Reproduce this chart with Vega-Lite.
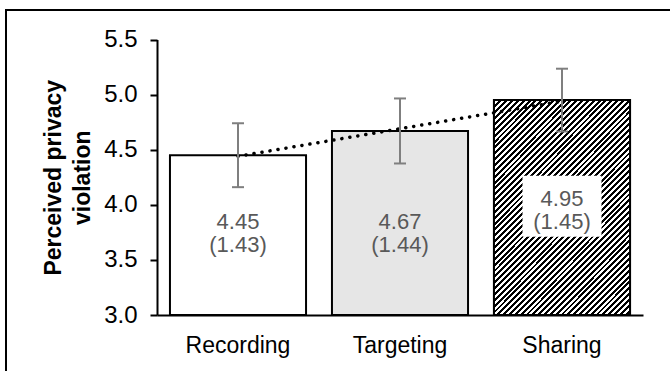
{
  "$schema": "https://vega.github.io/schema/vega-lite/v6.json",
  "width": 664,
  "height": 361,
  "autosize": {"type": "none"},
  "padding": {"left": 6, "top": 10, "right": 0, "bottom": 0},
  "background": "white",
  "config": {
    "font": "Liberation Sans",
    "view": {"stroke": "#000000", "strokeWidth": 2, "strokeDash": [664, 1025, 361]},
    "axis": {"grid": false, "domainColor": "#000000", "domainWidth": 2, "tickColor": "#000000", "labelColor": "#000000", "titleColor": "#000000"}
  },
  "data": {
    "values": [
      {"condition": "Recording", "mean": 4.45, "lo": 4.16, "hi": 4.74, "label": "4.45\n(1.43)"},
      {"condition": "Targeting", "mean": 4.67, "lo": 4.375, "hi": 4.965, "label": "4.67\n(1.44)"},
      {"condition": "Sharing", "mean": 4.95, "lo": 4.665, "hi": 5.235, "label": "4.95\n(1.45)"}
    ]
  },
  "encoding": {
    "x": {
      "field": "condition",
      "type": "nominal",
      "scale": {"type": "band", "domain": ["Recording", "Targeting", "Sharing"], "range": [151, 637], "paddingInner": 0.16, "paddingOuter": 0.08},
      "axis": {"title": null, "orient": "bottom", "offset": -56, "ticks": false, "tickSize": 0, "labelPadding": 19, "labelFontSize": 23, "labelAngle": 0}
    }
  },
  "layer": [
    {
      "mark": {"type": "bar", "stroke": "#000000", "strokeWidth": 2},
      "encoding": {
        "y": {
          "field": "mean",
          "type": "quantitative",
          "scale": {"domain": [3, 5.5], "range": [305, 29.5], "zero": false, "nice": false},
          "axis": {"title": ["Perceived privacy", "violation"], "orient": "left", "offset": -151, "values": [3, 3.5, 4, 4.5, 5, 5.5], "format": ".1f", "tickSize": 7, "tickWidth": 2, "labelPadding": 13, "labelFontSize": 24, "titleFontSize": 23, "titleFontWeight": "bold", "titleLineHeight": 29, "titlePadding": 9}
        },
        "y2": {"datum": 3},
        "fill": {"field": "condition", "type": "nominal", "scale": {"domain": ["Recording", "Targeting", "Sharing"], "range": ["#ffffff", "#e6e6e6", "#ffffff"]}, "legend": null}
      }
    },
    {
      "transform": [{"filter": {"field": "condition", "equal": "Sharing"}}],
      "mark": {
        "type": "bar",
        "stroke": "#000000",
        "strokeWidth": 2,
        "fill": {
          "gradient": "linear", "x1": 0, "y1": 0, "x2": 0.741, "y2": 1.165,
          "stops": [
            {"offset": 0, "color": "#000"}, {"offset": 0.00833, "color": "#000"}, {"offset": 0.00833, "color": "#fff"}, {"offset": 0.01667, "color": "#fff"},
            {"offset": 0.01667, "color": "#000"}, {"offset": 0.025, "color": "#000"}, {"offset": 0.025, "color": "#fff"}, {"offset": 0.03333, "color": "#fff"},
            {"offset": 0.03333, "color": "#000"}, {"offset": 0.04167, "color": "#000"}, {"offset": 0.04167, "color": "#fff"}, {"offset": 0.05, "color": "#fff"},
            {"offset": 0.05, "color": "#000"}, {"offset": 0.05833, "color": "#000"}, {"offset": 0.05833, "color": "#fff"}, {"offset": 0.06667, "color": "#fff"},
            {"offset": 0.06667, "color": "#000"}, {"offset": 0.075, "color": "#000"}, {"offset": 0.075, "color": "#fff"}, {"offset": 0.08333, "color": "#fff"},
            {"offset": 0.08333, "color": "#000"}, {"offset": 0.09167, "color": "#000"}, {"offset": 0.09167, "color": "#fff"}, {"offset": 0.1, "color": "#fff"},
            {"offset": 0.1, "color": "#000"}, {"offset": 0.10833, "color": "#000"}, {"offset": 0.10833, "color": "#fff"}, {"offset": 0.11667, "color": "#fff"},
            {"offset": 0.11667, "color": "#000"}, {"offset": 0.125, "color": "#000"}, {"offset": 0.125, "color": "#fff"}, {"offset": 0.13333, "color": "#fff"},
            {"offset": 0.13333, "color": "#000"}, {"offset": 0.14167, "color": "#000"}, {"offset": 0.14167, "color": "#fff"}, {"offset": 0.15, "color": "#fff"},
            {"offset": 0.15, "color": "#000"}, {"offset": 0.15833, "color": "#000"}, {"offset": 0.15833, "color": "#fff"}, {"offset": 0.16667, "color": "#fff"},
            {"offset": 0.16667, "color": "#000"}, {"offset": 0.175, "color": "#000"}, {"offset": 0.175, "color": "#fff"}, {"offset": 0.18333, "color": "#fff"},
            {"offset": 0.18333, "color": "#000"}, {"offset": 0.19167, "color": "#000"}, {"offset": 0.19167, "color": "#fff"}, {"offset": 0.2, "color": "#fff"},
            {"offset": 0.2, "color": "#000"}, {"offset": 0.20833, "color": "#000"}, {"offset": 0.20833, "color": "#fff"}, {"offset": 0.21667, "color": "#fff"},
            {"offset": 0.21667, "color": "#000"}, {"offset": 0.225, "color": "#000"}, {"offset": 0.225, "color": "#fff"}, {"offset": 0.23333, "color": "#fff"},
            {"offset": 0.23333, "color": "#000"}, {"offset": 0.24167, "color": "#000"}, {"offset": 0.24167, "color": "#fff"}, {"offset": 0.25, "color": "#fff"},
            {"offset": 0.25, "color": "#000"}, {"offset": 0.25833, "color": "#000"}, {"offset": 0.25833, "color": "#fff"}, {"offset": 0.26667, "color": "#fff"},
            {"offset": 0.26667, "color": "#000"}, {"offset": 0.275, "color": "#000"}, {"offset": 0.275, "color": "#fff"}, {"offset": 0.28333, "color": "#fff"},
            {"offset": 0.28333, "color": "#000"}, {"offset": 0.29167, "color": "#000"}, {"offset": 0.29167, "color": "#fff"}, {"offset": 0.3, "color": "#fff"},
            {"offset": 0.3, "color": "#000"}, {"offset": 0.30833, "color": "#000"}, {"offset": 0.30833, "color": "#fff"}, {"offset": 0.31667, "color": "#fff"},
            {"offset": 0.31667, "color": "#000"}, {"offset": 0.325, "color": "#000"}, {"offset": 0.325, "color": "#fff"}, {"offset": 0.33333, "color": "#fff"},
            {"offset": 0.33333, "color": "#000"}, {"offset": 0.34167, "color": "#000"}, {"offset": 0.34167, "color": "#fff"}, {"offset": 0.35, "color": "#fff"},
            {"offset": 0.35, "color": "#000"}, {"offset": 0.35833, "color": "#000"}, {"offset": 0.35833, "color": "#fff"}, {"offset": 0.36667, "color": "#fff"},
            {"offset": 0.36667, "color": "#000"}, {"offset": 0.375, "color": "#000"}, {"offset": 0.375, "color": "#fff"}, {"offset": 0.38333, "color": "#fff"},
            {"offset": 0.38333, "color": "#000"}, {"offset": 0.39167, "color": "#000"}, {"offset": 0.39167, "color": "#fff"}, {"offset": 0.4, "color": "#fff"},
            {"offset": 0.4, "color": "#000"}, {"offset": 0.40833, "color": "#000"}, {"offset": 0.40833, "color": "#fff"}, {"offset": 0.41667, "color": "#fff"},
            {"offset": 0.41667, "color": "#000"}, {"offset": 0.425, "color": "#000"}, {"offset": 0.425, "color": "#fff"}, {"offset": 0.43333, "color": "#fff"},
            {"offset": 0.43333, "color": "#000"}, {"offset": 0.44167, "color": "#000"}, {"offset": 0.44167, "color": "#fff"}, {"offset": 0.45, "color": "#fff"},
            {"offset": 0.45, "color": "#000"}, {"offset": 0.45833, "color": "#000"}, {"offset": 0.45833, "color": "#fff"}, {"offset": 0.46667, "color": "#fff"},
            {"offset": 0.46667, "color": "#000"}, {"offset": 0.475, "color": "#000"}, {"offset": 0.475, "color": "#fff"}, {"offset": 0.48333, "color": "#fff"},
            {"offset": 0.48333, "color": "#000"}, {"offset": 0.49167, "color": "#000"}, {"offset": 0.49167, "color": "#fff"}, {"offset": 0.5, "color": "#fff"},
            {"offset": 0.5, "color": "#000"}, {"offset": 0.50833, "color": "#000"}, {"offset": 0.50833, "color": "#fff"}, {"offset": 0.51667, "color": "#fff"},
            {"offset": 0.51667, "color": "#000"}, {"offset": 0.525, "color": "#000"}, {"offset": 0.525, "color": "#fff"}, {"offset": 0.53333, "color": "#fff"},
            {"offset": 0.53333, "color": "#000"}, {"offset": 0.54167, "color": "#000"}, {"offset": 0.54167, "color": "#fff"}, {"offset": 0.55, "color": "#fff"},
            {"offset": 0.55, "color": "#000"}, {"offset": 0.55833, "color": "#000"}, {"offset": 0.55833, "color": "#fff"}, {"offset": 0.56667, "color": "#fff"},
            {"offset": 0.56667, "color": "#000"}, {"offset": 0.575, "color": "#000"}, {"offset": 0.575, "color": "#fff"}, {"offset": 0.58333, "color": "#fff"},
            {"offset": 0.58333, "color": "#000"}, {"offset": 0.59167, "color": "#000"}, {"offset": 0.59167, "color": "#fff"}, {"offset": 0.6, "color": "#fff"},
            {"offset": 0.6, "color": "#000"}, {"offset": 0.60833, "color": "#000"}, {"offset": 0.60833, "color": "#fff"}, {"offset": 0.61667, "color": "#fff"},
            {"offset": 0.61667, "color": "#000"}, {"offset": 0.625, "color": "#000"}, {"offset": 0.625, "color": "#fff"}, {"offset": 0.63333, "color": "#fff"},
            {"offset": 0.63333, "color": "#000"}, {"offset": 0.64167, "color": "#000"}, {"offset": 0.64167, "color": "#fff"}, {"offset": 0.65, "color": "#fff"},
            {"offset": 0.65, "color": "#000"}, {"offset": 0.65833, "color": "#000"}, {"offset": 0.65833, "color": "#fff"}, {"offset": 0.66667, "color": "#fff"},
            {"offset": 0.66667, "color": "#000"}, {"offset": 0.675, "color": "#000"}, {"offset": 0.675, "color": "#fff"}, {"offset": 0.68333, "color": "#fff"},
            {"offset": 0.68333, "color": "#000"}, {"offset": 0.69167, "color": "#000"}, {"offset": 0.69167, "color": "#fff"}, {"offset": 0.7, "color": "#fff"},
            {"offset": 0.7, "color": "#000"}, {"offset": 0.70833, "color": "#000"}, {"offset": 0.70833, "color": "#fff"}, {"offset": 0.71667, "color": "#fff"},
            {"offset": 0.71667, "color": "#000"}, {"offset": 0.725, "color": "#000"}, {"offset": 0.725, "color": "#fff"}, {"offset": 0.73333, "color": "#fff"},
            {"offset": 0.73333, "color": "#000"}, {"offset": 0.74167, "color": "#000"}, {"offset": 0.74167, "color": "#fff"}, {"offset": 0.75, "color": "#fff"},
            {"offset": 0.75, "color": "#000"}, {"offset": 0.75833, "color": "#000"}, {"offset": 0.75833, "color": "#fff"}, {"offset": 0.76667, "color": "#fff"},
            {"offset": 0.76667, "color": "#000"}, {"offset": 0.775, "color": "#000"}, {"offset": 0.775, "color": "#fff"}, {"offset": 0.78333, "color": "#fff"},
            {"offset": 0.78333, "color": "#000"}, {"offset": 0.79167, "color": "#000"}, {"offset": 0.79167, "color": "#fff"}, {"offset": 0.8, "color": "#fff"},
            {"offset": 0.8, "color": "#000"}, {"offset": 0.80833, "color": "#000"}, {"offset": 0.80833, "color": "#fff"}, {"offset": 0.81667, "color": "#fff"},
            {"offset": 0.81667, "color": "#000"}, {"offset": 0.825, "color": "#000"}, {"offset": 0.825, "color": "#fff"}, {"offset": 0.83333, "color": "#fff"},
            {"offset": 0.83333, "color": "#000"}, {"offset": 0.84167, "color": "#000"}, {"offset": 0.84167, "color": "#fff"}, {"offset": 0.85, "color": "#fff"},
            {"offset": 0.85, "color": "#000"}, {"offset": 0.85833, "color": "#000"}, {"offset": 0.85833, "color": "#fff"}, {"offset": 0.86667, "color": "#fff"},
            {"offset": 0.86667, "color": "#000"}, {"offset": 0.875, "color": "#000"}, {"offset": 0.875, "color": "#fff"}, {"offset": 0.88333, "color": "#fff"},
            {"offset": 0.88333, "color": "#000"}, {"offset": 0.89167, "color": "#000"}, {"offset": 0.89167, "color": "#fff"}, {"offset": 0.9, "color": "#fff"},
            {"offset": 0.9, "color": "#000"}, {"offset": 0.90833, "color": "#000"}, {"offset": 0.90833, "color": "#fff"}, {"offset": 0.91667, "color": "#fff"},
            {"offset": 0.91667, "color": "#000"}, {"offset": 0.925, "color": "#000"}, {"offset": 0.925, "color": "#fff"}, {"offset": 0.93333, "color": "#fff"},
            {"offset": 0.93333, "color": "#000"}, {"offset": 0.94167, "color": "#000"}, {"offset": 0.94167, "color": "#fff"}, {"offset": 0.95, "color": "#fff"},
            {"offset": 0.95, "color": "#000"}, {"offset": 0.95833, "color": "#000"}, {"offset": 0.95833, "color": "#fff"}, {"offset": 0.96667, "color": "#fff"},
            {"offset": 0.96667, "color": "#000"}, {"offset": 0.975, "color": "#000"}, {"offset": 0.975, "color": "#fff"}, {"offset": 0.98333, "color": "#fff"},
            {"offset": 0.98333, "color": "#000"}, {"offset": 0.99167, "color": "#000"}, {"offset": 0.99167, "color": "#fff"}, {"offset": 1, "color": "#fff"}
          ]
        }
      },
      "encoding": {
        "y": {"field": "mean", "type": "quantitative"},
        "y2": {"datum": 3}
      }
    },
    {
      "data": {"values": [{"condition": "Recording", "trend": 4.44}, {"condition": "Sharing", "trend": 4.94}]},
      "mark": {"type": "line", "color": "#000000", "strokeWidth": 3.5, "strokeDash": [0.1, 8], "strokeCap": "round"},
      "encoding": {
        "y": {"field": "trend", "type": "quantitative"}
      }
    },
    {
      "mark": {"type": "rule", "color": "#7f7f7f", "strokeWidth": 2},
      "encoding": {
        "y": {"field": "lo", "type": "quantitative"},
        "y2": {"field": "hi"}
      }
    },
    {
      "mark": {"type": "tick", "color": "#7f7f7f", "size": 12, "thickness": 2, "opacity": 1},
      "encoding": {
        "y": {"field": "lo", "type": "quantitative"}
      }
    },
    {
      "mark": {"type": "tick", "color": "#7f7f7f", "size": 12, "thickness": 2, "opacity": 1},
      "encoding": {
        "y": {"field": "hi", "type": "quantitative"}
      }
    },
    {
      "transform": [{"filter": {"field": "condition", "oneOf": ["Recording", "Targeting"]}}],
      "mark": {"type": "text", "fontSize": 22, "color": "#595959", "lineBreak": "\n", "lineHeight": 23},
      "encoding": {
        "y": {"datum": 3.845},
        "text": {"field": "label", "type": "nominal"}
      }
    },
    {
      "transform": [{"filter": {"field": "condition", "equal": "Sharing"}}],
      "mark": {"type": "bar", "width": 79, "fill": "#ffffff", "strokeWidth": 0},
      "encoding": {
        "y": {"datum": 3.709},
        "y2": {"datum": 4.264}
      }
    },
    {
      "transform": [{"filter": {"field": "condition", "equal": "Sharing"}}],
      "mark": {"type": "text", "fontSize": 22, "color": "#595959", "lineBreak": "\n", "lineHeight": 23},
      "encoding": {
        "y": {"datum": 4.05},
        "text": {"field": "label", "type": "nominal"}
      }
    }
  ]
}
